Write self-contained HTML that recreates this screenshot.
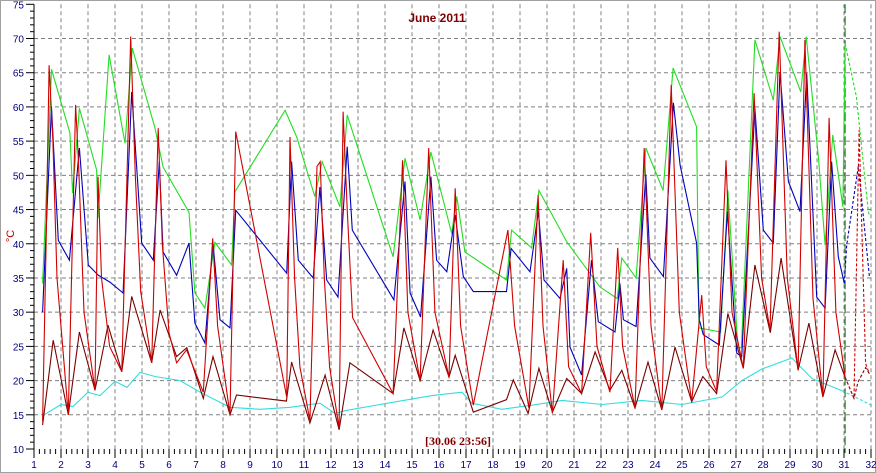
<!DOCTYPE html>
<html><head><meta charset="utf-8"><style>
html,body{margin:0;padding:0;background:#fff;}
svg{display:block;font-family:"Liberation Sans",sans-serif;}
</style></head><body>
<svg id="chart" width="876" height="473" viewBox="0 0 876 473" xmlns="http://www.w3.org/2000/svg">
<rect x="0.5" y="0.5" width="875" height="472" fill="#fff" stroke="#a0a0a0"/>
<g id="grid"></g>
<g id="axes"></g>
<g id="series"></g>
<text x="437" y="22" text-anchor="middle" font-size="12" font-weight="bold" fill="#800000">June 2011</text>
<text transform="translate(14,236) rotate(-90)" text-anchor="middle" font-size="11" fill="#c00000">°C</text>
<text x="425" y="445" font-family="Liberation Serif, serif" font-size="12" font-weight="bold" fill="#800000">[30.06 23:56]</text>
</svg>
<script>
const yTicks=[10,15,20,25,30,35,40,45,50,55,60,65,70,75];
const xTicks=[1,2,3,4,5,6,7,8,9,10,11,12,13,14,15,16,17,18,19,20,21,22,23,24,25,26,27,28,29,30,31,32];
const nowDay=31.04;
const cyanD=[1.37,2.0,2.44,3.0,3.44,4.0,4.44,4.93,5.48,6.41,7.15,8.26,9.37,10.48,11.59,12.15,12.52,13.81,15.74,16.85,17.22,18.33,19.44,20.56,22.04,23.52,25.0,26.48,27.22,27.96,29.07,29.81,30.93,31.67,32.0];
const cyanV=[15.0,16.5,16.2,18.3,17.8,19.9,19.0,21.2,20.6,20.0,18.3,16.1,15.8,16.1,16.7,15.2,15.6,16.5,17.8,18.3,16.7,15.8,16.4,17.1,16.5,17.1,16.5,17.6,20.0,21.7,23.3,20.3,18.5,17.1,16.4];
const wineD=[1.32,1.71,2.27,2.68,3.26,3.74,4.25,4.62,5.36,5.67,6.28,6.66,7.27,7.63,8.26,8.5,10.35,10.54,11.22,11.78,12.3,12.7,14.3,14.7,15.3,15.78,16.37,16.6,17.27,18.5,18.75,19.3,19.7,20.2,20.73,21.28,21.78,22.33,22.77,23.26,23.74,24.25,24.74,25.36,25.77,26.28,26.7,27.27,27.7,28.27,28.67,29.3,29.7,30.22,30.67,31.04,31.37,31.52,31.8,31.94];
const wineV=[13.5,25.9,15,27.1,18.6,28.1,21.3,32.3,22.6,30.3,23.5,24.8,17.4,23.5,15,17.9,17,22.7,13.8,20.8,12.8,22.6,18.1,27.7,20,27.4,20.5,23.7,15.4,17.2,20.1,15.2,21.8,15.4,20.3,18.1,24.2,18.6,21.5,16,22.7,15.7,24.9,16.9,20.6,18.1,29.8,21.8,36.9,27,37.9,21.5,28.4,17.6,24.5,20.5,17.4,19.8,21.9,21];
const greenD=[1.32,1.65,2.33,2.43,2.68,3.32,3.37,3.78,4.37,4.64,5.48,5.78,6.74,6.96,7.33,7.7,8.32,8.44,10.3,10.73,11.4,11.67,12.33,12.6,14.3,14.74,15.3,15.7,16.47,16.66,16.96,18.5,18.69,19.43,19.7,20.73,21.96,22.6,22.77,23.3,23.66,24.3,24.67,25.54,25.63,26.43,26.7,27.07,27.2,27.7,28.38,28.63,29.4,29.6,30.05,30.3,30.58,30.96,31.04,31.46,31.9,31.95];
const greenV=[34.2,65.5,56.2,47.4,59.8,50.8,43.8,67.6,54.7,68.6,56.9,51.2,44.6,32.8,30.6,40.2,36.9,47.6,59.5,55.6,46.9,52,45.4,58.8,38.1,52.5,43.5,53.4,41.5,46.9,38.8,34.7,42,39.4,47.8,40.3,33.7,32,37.9,35,54,47.8,65.7,57.1,27.7,27.1,47.8,24.8,24.8,69.8,61,70.3,62.2,70.3,52.7,39.8,55.9,45.4,69.3,61.5,44.7,44];
const blueD=[1.32,1.65,1.9,2.31,2.68,3.01,3.38,3.81,4.3,4.62,4.99,5.42,5.64,5.78,6.28,6.74,6.96,7.33,7.63,7.89,8.26,8.47,10.36,10.54,10.79,11.34,11.59,11.84,12.26,12.6,12.79,14.33,14.74,14.93,15.32,15.7,15.91,16.29,16.6,16.9,17.27,18.5,18.67,19.37,19.68,19.89,20.48,20.73,20.85,21.28,21.65,21.9,22.52,22.7,22.83,23.3,23.66,23.81,24.31,24.68,24.93,25.54,25.64,25.79,26.38,26.68,27.03,27.21,27.7,28.01,28.38,28.63,28.94,29.37,29.62,29.99,30.3,30.54,30.79,31.01,31.1,31.53,31.94];
const blueV=[30,60,40.5,37.6,54,36.9,35.4,34.4,32.8,62.2,40.1,37.6,52,38.8,35.4,40.1,28.4,25.5,40.1,28.9,27.7,44.9,35.7,52,37.6,35,48.3,34.7,32.2,54.2,42,31.8,49.1,32.8,29.3,49.8,37.6,35.9,44.2,35.2,33,33,39.3,35.9,44.7,34.7,32,36.4,24.9,20.8,37.6,28.6,27.1,34.2,28.9,27.9,50.1,37.9,35.2,60.6,51.5,40.1,28.9,26.7,25.2,44.7,24,23.5,59.8,42,40.1,65.1,49.1,44.7,64.9,32.2,30.6,52,38.1,34.2,39.8,51.3,35.2];
const redD=[1.32,1.45,1.56,1.7,1.85,2.27,2.54,2.65,2.85,3.26,3.37,3.5,3.8,4.25,4.58,4.75,4.95,5.36,5.6,5.75,6.0,6.28,6.65,7.27,7.62,7.8,8.26,8.47,10.36,10.48,10.65,10.85,11.22,11.48,11.6,11.75,11.95,12.3,12.45,12.6,12.8,14.3,14.65,14.85,15.3,15.62,15.85,16.37,16.6,16.8,17.27,18.55,18.8,19.33,19.67,19.85,20.2,20.6,20.8,21.28,21.62,21.85,22.33,22.62,22.8,23.26,23.6,23.85,24.25,24.6,24.9,25.36,25.73,25.9,26.28,26.63,26.85,27.27,27.67,27.95,28.26,28.6,28.9,29.3,29.55,29.85,30.22,30.45,30.7,31.04,31.37,31.56,31.8,31.94];
const redV=[14,40,66.1,55,35,15,60.3,52,30,18.6,49.8,35,25,21.3,70.3,50,33,22.6,56.9,40,27,22.6,24.5,18.3,40.8,28,15,56.4,17.6,55.6,35,22,14.2,51.3,52,35,22,13.1,59.3,45,29.2,18.1,52.2,30,20,54,30,20.5,48.1,28,16.4,42,28,16,47.1,28,15.2,37.6,22,18.1,41.6,25,18.3,39.4,25,16,54,28,15.7,63.2,30,16.9,32.5,22,18.4,52.2,30,21.8,62,35,27.4,71,35,21.5,69.8,32,17.6,58.4,30,20.5,17.4,56.6,22.5,21];

const NS='http://www.w3.org/2000/svg';
const X0=34,X1=871,Y0=449,Y1=4.3;
function xs(d){return X0+(d-1)*(X1-X0)/31;}
function ys(v){return Y0-(v-10)*(Y0-Y1)/65;}
function mk(tag,attrs,parent){const e=document.createElementNS(NS,tag);for(const k in attrs)e.setAttribute(k,attrs[k]);parent.appendChild(e);return e;}
const grid=document.getElementById('grid'),axes=document.getElementById('axes'),ser=document.getElementById('series');
xTicks.forEach(d=>{
  if(d>1){const l=mk('line',{x1:xs(d),x2:xs(d),y1:Y1,y2:Y0,stroke:'#808080','stroke-dasharray':'4,3','stroke-width':1},grid);
  
  }
  const t=mk('line',{x1:xs(d),x2:xs(d),y1:Y0,y2:Y0+9,stroke:'#000'},axes);
  
  
  if(d<32){for(let k=1;k<5;k++){const m=mk('line',{x1:xs(d+k/5),x2:xs(d+k/5),y1:Y0,y2:Y0+5,stroke:'#000'},axes);
    
    }}
  const tx=mk('text',{x:xs(d),y:468,'text-anchor':'middle','font-size':10,fill:'#000080'},axes);
  tx.textContent=d;
  
  
});
yTicks.forEach(v=>{
  if(v>10&&v<75){const l=mk('line',{x1:X0,x2:X1,y1:ys(v),y2:ys(v),stroke:'#808080','stroke-dasharray':'4,3'},grid);
  
  }
  const t=mk('line',{x1:X0-8,x2:X0,y1:ys(v),y2:ys(v),stroke:'#000'},axes);
  
  
  if(v<75){for(let k=1;k<5;k++){const m=mk('line',{x1:X0-4,x2:X0,y1:ys(v+k),y2:ys(v+k),stroke:'#000'},axes);
    
    }}
  const tx=mk('text',{x:X0-10,y:ys(v)+4,'text-anchor':'end','font-size':10,fill:'#000080'},axes);
  tx.textContent=v;
  
  
});
const ax=mk('line',{x1:X0,x2:X0,y1:Y1,y2:Y0,stroke:'#000'},axes);


const nl=mk('line',{x1:xs(nowDay),x2:xs(nowDay),y1:Y1,y2:Y0+4,stroke:'#006400','stroke-dasharray':'9,3','stroke-width':1},axes);


function draw(D,V,color,name){
  let a='',b='';
  for(let i=0;i<D.length;i++){
    const p=xs(D[i]).toFixed(1)+','+ys(V[i]).toFixed(1)+' ';
    if(D[i]<=nowDay+0.001)a+=p;
    if(D[i]>=nowDay-0.001||(i+1<D.length&&D[i+1]>nowDay&&D[i]<nowDay))b+=p;
  }
  const s=mk('polyline',{points:a,fill:'none',stroke:color,'stroke-width':1.1},ser);
  
  
  if(b.trim().split(' ').length>1){const f=mk('polyline',{points:b,fill:'none',stroke:color,'stroke-width':1.1,'stroke-dasharray':'3,2'},ser);
  
  }
}
draw(cyanD,cyanV,'#33dddd','min-temp');
draw(greenD,greenV,'#22dd22','max-temp');
draw(blueD,blueV,'#0000bb','avg-temp');
draw(wineD,wineV,'#7a0000','ambient-temp');
draw(redD,redV,'#d00000','current-temp');
</script>
</body></html>
